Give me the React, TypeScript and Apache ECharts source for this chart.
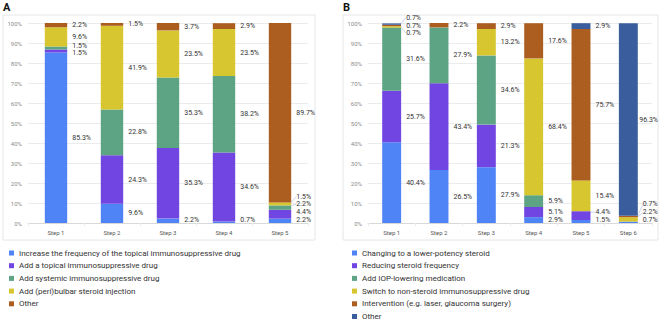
import React, { useEffect, useRef } from "react";
import * as echarts from "echarts";

// ---------- DATA ----------
const stepsA = ["Step 1", "Step 2", "Step 3", "Step 4", "Step 5"];
const namesA = [
  "Increase the frequency of the topical immunosuppressive drug",
  "Add a topical immunosuppressive drug",
  "Add systemic immunosuppressive drug",
  "Add (peri)bulbar steroid injection",
  "Other",
];
const increaseFreqA = [85.3, 9.6, 2.2, 0.7, 2.2];
const addTopicalA = [1.5, 24.3, 35.3, 34.6, 4.4];
const addSystemicA = [1.5, 22.8, 35.3, 38.2, 2.2];
const addPeribulbarA = [9.6, 41.9, 23.5, 23.5, 1.5];
const otherA = [2.2, 1.5, 3.7, 2.9, 89.7];

const stepsB = ["Step 1", "Step 2", "Step 3", "Step 4", "Step 5", "Step 6"];
const namesB = [
  "Changing to a lower-potency steroid",
  "Reducing steroid frequency",
  "Add IOP-lowering medication",
  "Switch to non-steroid immunosuppressive drug",
  "Intervention (e.g. laser, glaucoma surgery)",
  "Other ",
];
const lowerPotencyB = [40.4, 26.5, 27.9, 2.9, 1.5, 0.7];
const reducingFreqB = [25.7, 43.4, 21.3, 5.1, 4.4, 0];
const iopLoweringB = [31.6, 27.9, 34.6, 5.9, 0, 0];
const switchNonSteroidB = [0.7, 0, 13.2, 68.4, 15.4, 2.2];
const interventionB = [0.7, 2.2, 2.9, 17.6, 75.7, 0.7];
const otherB = [0.7, 0, 0, 0, 2.9, 96.3];

const yTicks = [0, 10, 20, 30, 40, 50, 60, 70, 80, 90, 100];

// ---------- STYLE ----------
const COLORS = ["#4E84F6", "#7045E2", "#5DA484", "#D8C631", "#AC5E21", "#3A5E9D"];
const FONT = "Roboto, 'Liberation Sans', Arial, sans-serif";
const PLOT_TOP = 23;
const PLOT_H = 200;
const LABEL_GAP = 7.8;
const LABEL_MAX_Y = PLOT_H - 3; // relative to plot top
const CHART_RIGHT_LIMIT = 658;

// de-overlap label positions within each category (pixel space)
function computeOffsets(seriesVals: number[][]): number[][] {
  const nS = seriesVals.length;
  const nC = seriesVals[0].length;
  const px = PLOT_H / 100;
  const offsets: number[][] = seriesVals.map((s) => s.map(() => 0));
  for (let c = 0; c < nC; c++) {
    let cum = 0;
    const items: { s: number; y: number }[] = [];
    for (let s = 0; s < nS; s++) {
      const v = seriesVals[s][c];
      if (v > 0) items.push({ s, y: (100 - (cum + v / 2)) * px });
      cum += v;
    }
    items.sort((a, b) => a.y - b.y);
    const clusters: { idx: number[]; center: number }[] = items.map((it, i) => ({ idx: [i], center: it.y }));
    const place = (cl: { idx: number[]; center: number }) => {
      const n = cl.idx.length;
      const first = cl.center - ((n - 1) * LABEL_GAP) / 2;
      return { top: first, bottom: first + (n - 1) * LABEL_GAP };
    };
    let changed = true;
    while (changed) {
      changed = false;
      for (const cl of clusters) {
        const p = place(cl);
        if (p.bottom > LABEL_MAX_Y) cl.center -= p.bottom - LABEL_MAX_Y;
      }
      for (let i = 0; i < clusters.length - 1; i++) {
        const a = place(clusters[i]);
        const b = place(clusters[i + 1]);
        if (b.top - a.bottom < LABEL_GAP - 0.01) {
          const idx = clusters[i].idx.concat(clusters[i + 1].idx);
          const center = idx.reduce((acc, k) => acc + items[k].y, 0) / idx.length;
          clusters.splice(i, 2, { idx, center });
          changed = true;
          break;
        }
      }
    }
    for (const cl of clusters) {
      const p = place(cl);
      cl.idx.forEach((k, j) => {
        const it = items[k];
        offsets[it.s][c] = p.top + j * LABEL_GAP - it.y;
      });
    }
  }
  return offsets;
}

function buildSeries(names: string[], vals: number[][], axisIndex: number, stack: string) {
  const offs = computeOffsets(vals);
  return names.map((name, s) => ({
    name,
    type: "bar",
    stack,
    xAxisIndex: axisIndex,
    yAxisIndex: axisIndex,
    barWidth: "40%",
    itemStyle: { color: COLORS[s] },
    data: vals[s].map((v, c) => ({
      value: v,
      label: { show: v > 0 },
      labelLine: {
        show: v > 0 && Math.abs(offs[s][c]) > 2.5,
        lineStyle: { color: "#a9bedf", width: 0.6 },
      },
    })),
    label: {
      position: "right",
      distance: 5,
      formatter: (p: any) => `${p.value.toFixed(1)}%`,
      fontSize: 7,
      fontFamily: FONT,
      color: "#333",
    },
    labelLayout: (p: any) => {
      const over = p.labelRect.x + p.labelRect.width - CHART_RIGHT_LIMIT;
      return { dx: over > 0 ? -over : 0, dy: offs[s][p.dataIndex] || 0 };
    },
  }));
}

export default function App() {
  const ref = useRef<HTMLDivElement>(null);
  useEffect(() => {
    document.body.style.margin = "0";
    const chart = echarts.init(ref.current!, null, { renderer: "svg" });
    const xAxisCommon = {
      type: "category",
      axisLine: { show: true, lineStyle: { color: "#d9d9d9" } },
      axisTick: { show: true, length: 3, lineStyle: { color: "#ececec" } },
      axisLabel: { fontSize: 6, color: "#595959", fontFamily: FONT, margin: 6 },
      splitLine: { show: false },
    };
    const yAxisCommon = {
      type: "value",
      min: 0,
      max: 100,
      interval: 10,
      axisLine: { show: false },
      axisTick: { show: false },
      axisLabel: {
        fontSize: 6,
        color: "#8c8c8c",
        fontFamily: FONT,
        margin: 6,
        formatter: (v: number) => (yTicks.includes(v) ? `${v}%` : ""),
      },
      splitLine: { lineStyle: { color: "#ebebeb" } },
    };
    const legendCommon = {
      orient: "vertical",
      top: 249,
      padding: 0,
      height: 90,
      icon: "rect",
      itemWidth: 5,
      itemHeight: 5,
      itemGap: 4.7,
      textStyle: { fontSize: 8, color: "#333", fontFamily: FONT },
    };
    chart.setOption({
      animation: false,
      grid: [
        { left: 28, top: PLOT_TOP, width: 280, height: PLOT_H },
        { left: 368, top: PLOT_TOP, width: 284, height: PLOT_H },
      ],
      xAxis: [
        { ...xAxisCommon, gridIndex: 0, data: stepsA },
        { ...xAxisCommon, gridIndex: 1, data: stepsB },
      ],
      yAxis: [
        { ...yAxisCommon, gridIndex: 0 },
        { ...yAxisCommon, gridIndex: 1 },
      ],
      legend: [
        { ...legendCommon, left: 9, data: namesA },
        { ...legendCommon, left: 352, data: namesB },
      ],
      graphic: [
        { type: "rect", shape: { x: 3, y: 15, width: 312, height: 225 }, style: { fill: "none", stroke: "#e6e6e6", lineWidth: 1 }, silent: true },
        { type: "rect", shape: { x: 343, y: 15, width: 315, height: 225 }, style: { fill: "none", stroke: "#e6e6e6", lineWidth: 1 }, silent: true },
        { type: "text", left: 3, top: 2, style: { text: "A", fontSize: 11, fontWeight: "bold", fill: "#111", fontFamily: FONT } },
        { type: "text", left: 343, top: 2, style: { text: "B", fontSize: 11, fontWeight: "bold", fill: "#111", fontFamily: FONT } },
      ],
      series: [
        ...buildSeries(namesA, [increaseFreqA, addTopicalA, addSystemicA, addPeribulbarA, otherA], 0, "A"),
        ...buildSeries(namesB, [lowerPotencyB, reducingFreqB, iopLoweringB, switchNonSteroidB, interventionB, otherB], 1, "B"),
      ],
    });
    return () => chart.dispose();
  }, []);
  return <div ref={ref} style={{ width: 660, height: 321 }} />;
}
